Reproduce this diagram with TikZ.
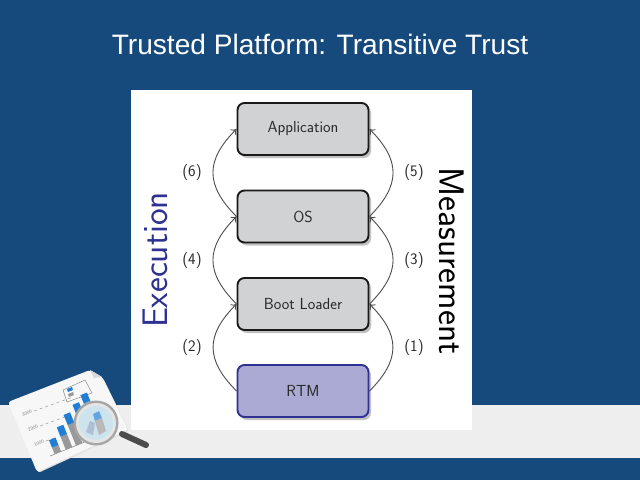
\documentclass[tikz,border=0pt]{standalone}
\usepackage{fontspec}
\setmainfont{Liberation Sans}
\usetikzlibrary{arrows.meta,positioning,shadows}
\definecolor{slidenavy}{RGB}{23,74,124}
\definecolor{bandgray}{RGB}{238,238,238}
\definecolor{boxgray}{RGB}{209,210,212}
\definecolor{rtmviolet}{RGB}{170,170,212}
\definecolor{execblue}{RGB}{46,49,146}
\definecolor{chartblue}{RGB}{34,125,212}
\definecolor{inkgray}{RGB}{40,40,40}
\definecolor{lensblue}{RGB}{205,228,238}

\begin{document}
\begin{tikzpicture}[
  x=1pt,y=-1pt,
  layer/.style={draw=black!90,line width=1.9pt,rounded corners=7pt,fill=boxgray,
                minimum width=131pt,minimum height=52pt,inner sep=0pt,
                text=inkgray,font=\fontsize{16}{18}\selectfont\sffamily,
                drop shadow={shadow xshift=2.5pt,shadow yshift=-3pt,opacity=0.4,fill=black!60}},
  rtmlayer/.style={layer,fill=rtmviolet,draw=execblue},
  stepline/.style={-{To[length=5pt,width=8pt]},draw=black!70,line width=0.9pt},
  steplabel/.style={text=inkgray,font=\fontsize{16}{18}\selectfont\sffamily,inner sep=0pt},
  sidelabel/.style={font=\fontsize{35.5}{38}\selectfont\sffamily,inner sep=0pt},
  dashline/.style={draw=black!40,dashed,line width=0.5pt},
  ticklabel/.style={text=black!50,font=\fontsize{4.5}{5}\selectfont,rotate=22,inner sep=0pt},
]
\useasboundingbox (0,0) rectangle (640,480);

% Slide background
\fill[slidenavy] (0,0) rectangle (640,480);
\fill[bandgray] (0,405) rectangle (640,458);
\fill[white] (131,90) rectangle (472,430);
\node[text=white,font=\fontsize{28.1}{32}\selectfont] (title) at (320,44)
  {Trusted Platform: Transitive Trust};

% Layers
\node[layer]    (app)  at (303,129) {Application};
\node[layer]    (os)   at (303,216.5) {OS};
\node[layer]    (boot) at (303,304) {Boot Loader};
\node[rtmlayer] (rtm)  at (303,391) {RTM};

% Measurement side
\draw[stepline] (rtm.east)  to[out=45,in=-45,looseness=1.3] (boot.east);
\draw[stepline] (boot.east) to[out=45,in=-45,looseness=1.3] (os.east);
\draw[stepline] (os.east)   to[out=45,in=-45,looseness=1.3] (app.east);

% Execution side
\draw[stepline] (rtm.west)  to[out=135,in=-135,looseness=1.3] (boot.west);
\draw[stepline] (boot.west) to[out=135,in=-135,looseness=1.3] (os.west);
\draw[stepline] (os.west)   to[out=135,in=-135,looseness=1.3] (app.west);

\node[steplabel] (m1) at (414,348) {(1)};
\node[steplabel] (e2) at (192,348) {(2)};
\node[steplabel] (m3) at (414,261) {(3)};
\node[steplabel] (e4) at (192,261) {(4)};
\node[steplabel] (m5) at (414,173) {(5)};
\node[steplabel] (e6) at (192,173) {(6)};

\node[sidelabel,text=execblue,rotate=90] (exec) at (155,260) {Execution};
\node[sidelabel,text=black,rotate=-90]   (meas) at (452,261) {Measurement};

% Report clip art
\fill[black!12,rounded corners=3pt] (9,403) -- (91,371) -- (103,378) -- (129,431) -- (38,473) -- cycle;
\fill[black!3,rounded corners=3pt] (8,402) -- (90,370) -- (102,377) -- (128,430) -- (37,472) -- cycle;
\fill[black!15] (90,370) -- (94,378) -- (102,377) -- cycle;
\draw[black!45,line width=0.5pt] (63,390) -- (85,380) -- (92,393) -- (67,402) -- cycle;
\fill[chartblue] (67,389) -- (72,387) -- (73,390) -- (68,392) -- cycle;
\fill[black!40] (68,394) -- (73,392) -- (74,395) -- (69,397) -- cycle;
\node[ticklabel] (t3) at (27,413) {3000};
\node[ticklabel] (t2) at (33,428) {2000};
\node[ticklabel] (t1) at (39,443) {1000};
\draw[dashline] (34,411) -- (73,397);
\draw[dashline] (40,426) -- (70,415);
\draw[dashline] (46,441) -- (57,437);
\begin{scope}[shift={(50,456)},rotate=22]
  \draw[black!50,line width=0.5pt] (0,0) -- (50,0);
  \fill[black!40] (5,0) rectangle (12,-7);
  \fill[chartblue] (5,-7) rectangle (12,-15);
  \fill[black!40] (17,0) rectangle (24,-14);
  \fill[chartblue] (17,-14) rectangle (24,-24);
  \fill[black!40] (28,0) rectangle (35,-22);
  \fill[chartblue] (28,-22) rectangle (35,-33);
  \fill[black!40] (40,0) rectangle (47,-28);
  \fill[chartblue] (40,-28) rectangle (47,-39);
  \fill[black!40] (51,-10) rectangle (58,-36);
  \fill[chartblue] (51,-36) rectangle (58,-45);
\end{scope}
\draw[black!70,line width=6pt,line cap=round] (122,434) -- (146,445);
\fill[black!35] (96,423) circle (22.5);
\fill[black!10] (96,423) circle (20);
\fill[lensblue] (96,423) circle (17);
\fill[chartblue!40!gray!50] (86,432) -- (90,421) -- (95,423) -- (93,435) -- cycle;
\fill[chartblue!70] (93,414) -- (99,411) -- (102,418) -- (95,421) -- cycle;
\fill[gray!55] (95,421) -- (102,418) -- (106,431) -- (99,435) -- cycle;
\end{tikzpicture}
\end{document}
